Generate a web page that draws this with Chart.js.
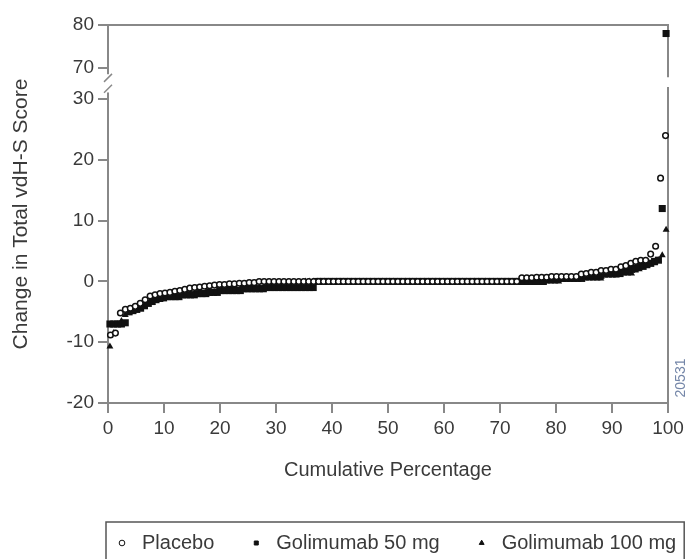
<!DOCTYPE html>
<html>
<head>
<meta charset="utf-8">
<script src="https://cdn.jsdelivr.net/npm/chart.js@4.4.1/dist/chart.umd.min.js"></script>
<style>
html, body { margin: 0; padding: 0; background: #fff; }
#wrap { width: 691px; height: 559px; position: relative; }
</style>
</head>
<body>
<div id="wrap"><canvas id="chart"></canvas></div>
<script>
// change in total vdH-S score, sorted, one value per patient
const kPlacebo = [
	-8.8, -8.5, -5.2, -4.6, -4.4, -4.1, -3.6, -3.0, -2.4, -2.2,
	-2.0, -1.9, -1.8, -1.6, -1.5, -1.3, -1.1, -1.0, -0.9, -0.8,
	-0.7, -0.6, -0.5, -0.5, -0.4, -0.4, -0.3, -0.3, -0.2, -0.2,
	0, 0, 0, 0, 0, 0, 0, 0, 0, 0,
	0, 0, 0, 0, 0, 0, 0, 0, 0, 0,
	0, 0, 0, 0, 0, 0, 0, 0, 0, 0,
	0, 0, 0, 0, 0, 0, 0, 0, 0, 0,
	0, 0, 0, 0, 0, 0, 0, 0, 0, 0,
	0, 0, 0,
	0.6, 0.6, 0.6, 0.7, 0.7, 0.7, 0.8, 0.8, 0.8, 0.8, 0.8, 0.8,
	1.2, 1.3, 1.5, 1.5, 1.8, 1.8, 2.0, 2.0, 2.4, 2.6,
	3.0, 3.3, 3.5, 3.5, 4.5, 5.8, 17, 24
];
const kGolimumab50 = [
	-7.0, -7.0, -7.0, -7.0, -6.8, -5.0, -4.8, -4.6, -4.4, -4.0,
	-3.6, -3.3, -3.0, -2.8, -2.7, -2.5, -2.5, -2.5, -2.5, -2.2,
	-2.2, -2.2, -2.2, -2.0, -2.0, -2.0, -1.8, -1.8, -1.8, -1.5,
	-1.5, -1.5, -1.5, -1.5, -1.5, -1.2, -1.2, -1.2, -1.2, -1.2,
	-1.2, -1.0, -1.0, -1.0, -1.0, -1.0, -1.0, -1.0, -1.0, -1.0,
	-1.0, -1.0, -1.0, -1.0,
	0, 0, 0, 0, 0, 0, 0, 0, 0, 0,
	0, 0, 0, 0, 0, 0, 0, 0, 0, 0,
	0, 0, 0, 0, 0, 0, 0, 0, 0, 0,
	0, 0, 0, 0, 0, 0, 0, 0, 0, 0,
	0, 0, 0, 0, 0, 0, 0, 0, 0, 0,
	0, 0, 0, 0, 0, 0, 0, 0, 0, 0,
	0.5, 0.5, 0.5, 0.5, 0.5, 0.5, 0.5, 0.5, 0.5, 0.5,
	1.0, 1.0, 1.0, 1.0, 1.0, 1.3, 1.3, 1.3, 1.3, 1.3,
	1.8, 2.0, 2.0, 2.2, 2.5, 2.5, 2.8, 3.0, 3.3, 3.5,
	12, 78
];
const kGolimumab100 = [
	-10.7, -8.5, -7.0, -6.5, -5.5, -5.0, -4.8, -4.5, -4.3, -4.0,
	-3.8, -3.5, -3.2, -3.0, -2.8, -2.7, -2.5, -2.5, -2.3, -2.2,
	-2.0, -2.0, -2.0, -2.0, -2.0, -1.8, -1.8, -1.8, -1.5, -1.5,
	-1.5, -1.2, -1.2, -1.2, -1.2, -1.2, -1.0, -1.0, -1.0, -1.0,
	-1.0, -1.0, -1.0, -1.0, -1.0, -1.0, -0.8, -0.8, -0.8, -0.8,
	-0.8,
	0, 0, 0, 0, 0, 0, 0, 0, 0, 0,
	0, 0, 0, 0, 0, 0, 0, 0, 0, 0,
	0, 0, 0, 0, 0, 0, 0, 0, 0, 0,
	0, 0, 0, 0, 0, 0, 0, 0, 0, 0,
	0, 0, 0, 0, 0, 0, 0, 0, 0, 0,
	0, 0, 0, 0, 0, 0, 0, 0, 0, 0,
	0, 0, 0, 0, 0, 0, 0,
	0.5, 0.5, 0.5, 0.5, 0.5, 0.5, 0.5, 0.5, 0.5, 0.5, 0.5,
	1.0, 1.0, 1.0, 1.0, 1.3, 1.3, 1.3, 1.3,
	1.8, 2.0, 2.3, 2.5, 2.8, 3.0, 3.5, 4.3, 8.5
];
const kSeriesNames = ["Placebo", "Golimumab 50 mg", "Golimumab 100 mg"];
const kYTicks = [-20, -10, 0, 10, 20, 30, 70, 80];
const kXTicks = [0, 10, 20, 30, 40, 50, 60, 70, 80, 90, 100];
const kFigureId = "20531";

// broken y axis: 30..70 is cut out and the upper part is squeezed
const kBreakLow = 30;
const kBreakHigh = 70;
const kBreakGap = 5.2;
const kUpperScale = 0.7;

const kFont = "'Liberation Sans', Arial, Helvetica, sans-serif";
const kTextColor = "#3a3a3a";
const kAxisColor = "#888888";
const kMarkColor = "#111111";
const kLegendPadding = 32;
const kLegendStart = 112;
const kLegendFont = 20;

function toAxis(v) {
	return v <= kBreakLow ? v : kBreakLow + kBreakGap + (v - kBreakHigh) * kUpperScale;
}

function toPoints(values) {
	// cumulative percentage from rank
	return values.map((v, i) => ({x: (i + 0.5) / values.length * 100, y: toAxis(v)}));
}

const framePlugin = {
	id: "frame",
	afterLayout(chart) {
		// legend starts under the y axis and may run past the plot on the right
		chart.legend.left = kLegendStart - kLegendPadding;
		chart.legend.right = chart.width + 100;
	},
	beforeDatasetsDraw(chart) {
		const {ctx, chartArea: {left, right, top, bottom}, scales: {y}} = chart;
		ctx.save();
		// cut the left axis and draw the break marks
		const cutTop = y.getPixelForValue(34.1);
		const cutBottom = y.getPixelForValue(31.1);
		ctx.fillStyle = "#ffffff";
		ctx.fillRect(left - 3, cutTop, 6, cutBottom - cutTop);
		ctx.strokeStyle = kAxisColor;
		ctx.lineWidth = 1.5;
		for (const v of [33.5, 31.7]) {
			const p = y.getPixelForValue(v);
			ctx.beginPath();
			ctx.moveTo(left - 4, p + 4);
			ctx.lineTo(left + 4, p - 4);
			ctx.stroke();
		}
		// top and right frame, right side also broken
		ctx.lineWidth = 2;
		ctx.beginPath();
		ctx.moveTo(left, top);
		ctx.lineTo(right, top);
		ctx.lineTo(right, y.getPixelForValue(33.6));
		ctx.moveTo(right, y.getPixelForValue(32.0));
		ctx.lineTo(right, bottom);
		ctx.stroke();
		ctx.restore();
	},
	afterDraw(chart) {
		const {ctx, chartArea: {right, bottom}} = chart;
		ctx.save();
		// figure number
		ctx.translate(right + 13, bottom - 25);
		ctx.rotate(-Math.PI / 2);
		ctx.font = `14px ${kFont}`;
		ctx.fillStyle = "#7486a8";
		ctx.textAlign = "center";
		ctx.textBaseline = "middle";
		ctx.fillText(kFigureId, 0, 0);
		ctx.restore();

		// box round the legend
		const boxes = chart.legend.legendHitBoxes;
		if (boxes && boxes.length) {
			const first = boxes[0];
			const last = boxes[boxes.length - 1];
			ctx.save();
			ctx.strokeStyle = "#555555";
			ctx.lineWidth = 1.5;
			ctx.strokeRect(first.left - 6, first.top - 11, last.left + last.width - first.left + 14, chart.height);
			ctx.restore();
		}
	}
};

const datasets = [
	{
		label: kSeriesNames[0],
		data: toPoints(kPlacebo),
		pointStyle: "circle",
		pointRadius: 2.8,
		pointBorderWidth: 1.5,
		pointBackgroundColor: "#ffffff",
		pointBorderColor: kMarkColor,
		clip: false
	},
	{
		label: kSeriesNames[1],
		data: toPoints(kGolimumab50),
		pointStyle: "rect",
		pointRadius: 5,
		pointBorderWidth: 0,
		pointBackgroundColor: kMarkColor,
		pointBorderColor: kMarkColor,
		clip: false
	},
	{
		label: kSeriesNames[2],
		data: toPoints(kGolimumab100),
		pointStyle: "triangle",
		pointRadius: 4,
		pointBorderWidth: 0,
		pointBackgroundColor: kMarkColor,
		pointBorderColor: kMarkColor,
		clip: false
	}
];

const context = document.getElementById("chart").getContext("2d");

new Chart(context, {
	type: "scatter",
	data: {datasets},
	plugins: [framePlugin],
	options: {
		responsive: true,
		maintainAspectRatio: false,
		animation: false,
		events: [],
		layout: {padding: {left: 0, right: 23, top: 25, bottom: -4}},
		plugins: {
			tooltip: {enabled: false},
			legend: {
				position: "bottom",
				align: "start",
				labels: {
					usePointStyle: true,
					boxWidth: 20,
					boxHeight: 4,
					padding: kLegendPadding,
					color: kTextColor,
					font: {family: kFont, size: kLegendFont},
					generateLabels: (chart) => chart.data.datasets.map((ds, i) => ({
						text: ds.label,
						fillStyle: ds.pointBackgroundColor,
						strokeStyle: ds.pointBorderColor,
						lineWidth: 1,
						pointStyle: ds.pointStyle,
						fontColor: kTextColor,
						hidden: false,
						datasetIndex: i
					}))
				}
			}
		},
		scales: {
			x: {
				type: "linear",
				min: 0,
				max: 100,
				afterBuildTicks: (scale) => {
					scale.ticks = kXTicks.map(v => ({value: v}));
				},
				afterFit: (scale) => {
					// plot bottom at 403, legend band below the axis title
					scale.height = (559 + 4) - (kLegendFont + kLegendPadding + 10) - 403;
				},
				ticks: {
					color: kTextColor,
					font: {family: kFont, size: 19},
					padding: 4,
					maxRotation: 0
				},
				grid: {drawOnChartArea: false, tickLength: 10, color: kAxisColor, lineWidth: 2},
				border: {color: kAxisColor, width: 2},
				title: {
					display: true,
					text: "Cumulative Percentage",
					color: kTextColor,
					font: {family: kFont, size: 20},
					padding: {top: 0, bottom: 19}
				}
			},
			y: {
				type: "linear",
				min: -20,
				max: toAxis(80),
				afterBuildTicks: (scale) => {
					scale.ticks = kYTicks.map(v => ({value: toAxis(v)}));
				},
				afterFit: (scale) => {
					scale.width = 108;
				},
				ticks: {
					color: kTextColor,
					font: {family: kFont, size: 19},
					padding: 4,
					callback: (value, index) => String(kYTicks[index])
				},
				grid: {drawOnChartArea: false, tickLength: 10, color: kAxisColor, lineWidth: 2},
				border: {color: kAxisColor, width: 2},
				title: {
					display: true,
					text: "Change in Total vdH-S Score",
					color: kTextColor,
					font: {family: kFont, size: 21},
					padding: {top: 9, bottom: 0}
				}
			}
		}
	}
});
</script>
</body>
</html>
